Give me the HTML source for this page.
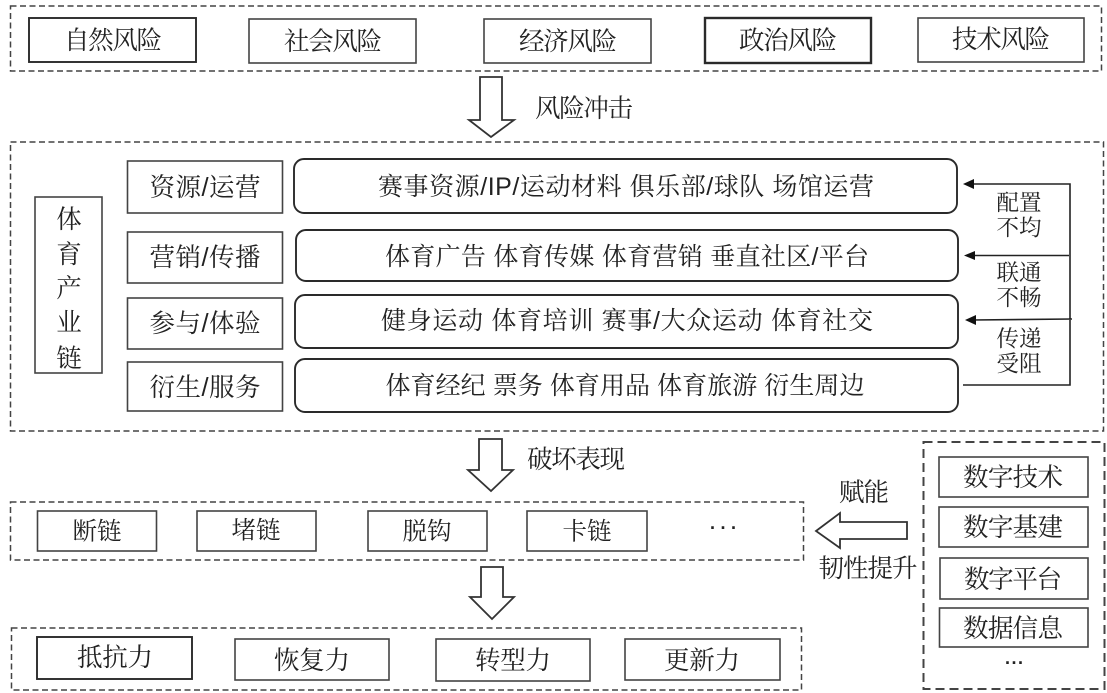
<!DOCTYPE html>
<html><head><meta charset="utf-8"><style>
html,body{margin:0;padding:0;background:#fff}
svg{display:block}
text{font-family:"Liberation Sans","Noto Serif CJK SC",serif;font-size:25.500px;fill:#222;text-anchor:middle;dominant-baseline:central}
.s{font-size:25px}
.t{font-size:24.500px}
.m{font-size:22.500px}
.b{fill:#fff;stroke:#444;stroke-width:1.6}
.k{fill:#fff;stroke:#2a2a2a;stroke-width:1.9}
.d{fill:none;stroke:#444;stroke-width:1.5;stroke-dasharray:6 3.5}
.a{fill:#fff;stroke:#333;stroke-width:1.8;stroke-linejoin:miter}
.l{fill:none;stroke:#222;stroke-width:1.6}
</style></head><body>
<svg width="1107" height="693" viewBox="0 0 1107 693" xmlns="http://www.w3.org/2000/svg">
<rect width="1107" height="693" fill="#fff"/>
<rect class="d" x="10.500" y="6" width="1091" height="65"/>
<rect class="k" x="29" y="18" width="167" height="44"/><text x="113" y="41" textLength="98">自然风险</text>
<rect class="b" x="249" y="19" width="167" height="44"/><text x="333" y="42" textLength="98">社会风险</text>
<rect class="b" x="484" y="19" width="167" height="44"/><text x="568" y="42" textLength="98">经济风险</text>
<rect class="k" x="705" y="18" width="166" height="45" style="stroke-width:2.400"/><text x="788" y="41" textLength="98">政治风险</text>
<rect class="b" x="918" y="18" width="166" height="44"/><text x="1001" y="40" textLength="98">技术风险</text>
<polygon class="a" points="480,77 502,77 502,120 514,120 491,137 469,120 480,120"/>
<text x="584" y="109" textLength="98">风险冲击</text>

<rect class="d" x="10.500" y="142" width="1093" height="289"/>
<rect class="b" x="35" y="197" width="67" height="176"/>
<text x="69" y="220">体</text><text x="69" y="255">育</text><text x="69" y="289">产</text><text x="69" y="323">业</text><text x="69" y="359">链</text>

<rect class="b" x="127.500" y="161" width="155" height="52"/><text x="205" y="188" textLength="111">资源/运营</text>
<rect class="b" x="127.500" y="232" width="155" height="51"/><text x="205" y="258" textLength="111">营销/传播</text>
<rect class="b" x="127.500" y="298" width="155" height="51"/><text x="205" y="324" textLength="111">参与/体验</text>
<rect class="b" x="127.500" y="362" width="155" height="49"/><text x="205" y="388" textLength="111">衍生/服务</text>

<rect class="k" x="294" y="159" width="663" height="54" rx="10"/><text class="s" x="626" y="187" textLength="496">赛事资源/IP/运动材料 俱乐部/球队  场馆运营</text>
<rect class="k" x="296" y="230" width="662" height="51" rx="10"/><text class="s" x="627" y="257" textLength="484">体育广告 体育传媒 体育营销 垂直社区/平台</text>
<rect class="k" x="295" y="295" width="663" height="53" rx="10"/><text class="s" x="627" y="321" textLength="492">健身运动 体育培训 赛事/大众运动  体育社交</text>
<rect class="k" x="295" y="359" width="663" height="53" rx="10"/><text class="s" x="625" y="386" textLength="479">体育经纪 票务 体育用品 体育旅游 衍生周边</text>

<path class="l" d="M963 385H1070V184H972M1069 255.500H972M1072 319L972 320"/>
<polygon fill="#111" points="963,184 974,179 974,189"/>
<polygon fill="#111" points="964,255.500 975,251 975,260"/>
<polygon fill="#111" points="965,320 976,315 976,325"/>
<text class="m" x="1019" y="203">配置</text><text class="m" x="1019" y="228">不均</text>
<text class="m" x="1019" y="273">联通</text><text class="m" x="1019" y="298">不畅</text>
<text class="m" x="1019" y="339">传递</text><text class="m" x="1019" y="364">受阻</text>

<polygon class="a" points="479,439 502,439 502,470 513,470 491,491 468,470 479,470"/>
<text x="576" y="460" textLength="98">破坏表现</text>

<rect class="d" x="10.500" y="502" width="793" height="58"/>
<rect class="b" x="37.500" y="511" width="119" height="40"/><text class="t" x="97" y="532" textLength="49">断链</text>
<rect class="b" x="197" y="511" width="119" height="40"/><text class="t" x="256" y="531" textLength="49">堵链</text>
<rect class="b" x="368" y="511" width="119" height="40"/><text class="t" x="427" y="532" textLength="49">脱钩</text>
<rect class="b" x="527" y="511" width="120" height="40"/><text class="t" x="587" y="532" textLength="49">卡链</text>
<text x="723" y="523" style="font-size:18px;font-weight:bold;fill:#222" textLength="26">...</text>

<polygon class="a" points="481,567 503,567 503,597 514,597 492,619 470,597 481,597"/>

<rect class="d" x="11.500" y="628" width="790" height="62"/>
<rect class="k" x="37" y="637" width="155" height="42"/><text x="115" y="658" textLength="76">抵抗力</text>
<rect class="b" x="235" y="639" width="154" height="41"/><text x="312" y="661" textLength="76">恢复力</text>
<rect class="b" x="436" y="639" width="154" height="42"/><text x="513" y="661" textLength="76">转型力</text>
<rect class="b" x="625" y="639" width="155" height="41"/><text x="702" y="661" textLength="76">更新力</text>

<rect class="d" x="923.500" y="442" width="181" height="247" style="stroke-width:2;stroke-dasharray:9 5"/>
<rect class="b" x="939" y="457" width="149" height="40"/><text x="1013" y="478" textLength="100">数字技术</text>
<rect class="b" x="939" y="507" width="149" height="40"/><text x="1013" y="528" textLength="100">数字基建</text>
<rect class="b" x="940" y="558" width="148" height="41"/><text x="1013" y="580" textLength="98">数字平台</text>
<rect class="b" x="939.500" y="608" width="148.500" height="39"/><text x="1013" y="629" textLength="100">数据信息</text>
<text x="1014" y="658" style="font-size:18px;font-weight:bold;fill:#222" textLength="18">...</text>

<polygon class="a" points="816,531 840,513 840,522 907,522 907,539 840,539 840,548"/>
<text x="864" y="493" textLength="50">赋能</text>
<text x="868" y="569" textLength="99">韧性提升</text>
</svg>
</body></html>
